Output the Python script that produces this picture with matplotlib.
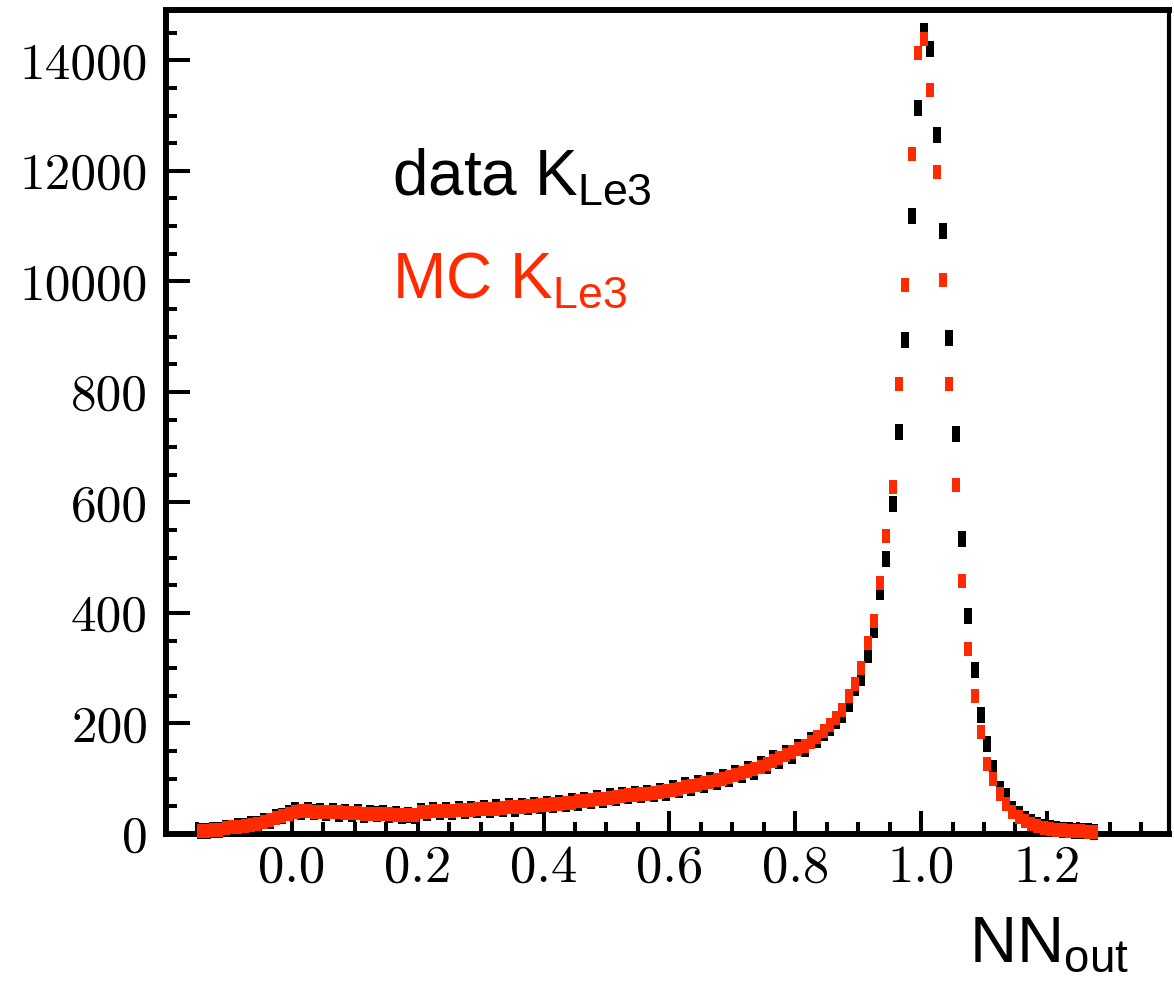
import numpy as np
import matplotlib
matplotlib.use("Agg")
import matplotlib.pyplot as plt
from matplotlib.ticker import MultipleLocator, FixedLocator, FixedFormatter

plt.rcParams["font.family"] = ["Liberation Sans", "DejaVu Sans"]
plt.rcParams["mathtext.fontset"] = "custom"
plt.rcParams["mathtext.rm"] = "Liberation Sans"
plt.rcParams["mathtext.it"] = "Liberation Sans:italic"

# ---------------------------------------------------------------------------
# Histogram data: 143 bins of width 0.01 from -0.15 to 1.28
# ---------------------------------------------------------------------------
bin_lo, bin_hi, bin_w = -0.15, 1.28, 0.01

mc_counts = [
    5, 6, 7, 8, 10, 12, 13, 15, 17, 19,
    22, 25, 29, 33, 37, 40, 41, 41, 40, 40,
    39, 39, 39, 38, 38, 38, 37, 37, 37, 36,
    36, 35, 35, 34, 34, 40, 40, 41, 41, 42,
    42, 43, 43, 44, 45, 45, 46, 46, 47, 48,
    48, 49, 50, 51, 52, 53, 54, 55, 56, 57,
    59, 60, 62, 63, 64, 66, 67, 68, 70, 71,
    72, 73, 75, 76, 78, 80, 82, 85, 87, 89,
    92, 95, 97, 100, 103, 106, 110, 114, 118, 122,
    127, 133, 138, 143, 148, 154, 160, 167, 175, 186,
    198, 210, 224, 250, 272, 300, 346, 385, 454, 539,
    628, 814, 994, 1231, 1413, 1438, 1347, 1198, 1003, 814,
    632, 458, 335, 250, 185, 127, 100, 72, 54, 40,
    30, 23, 18, 14, 11, 9, 8, 7, 6, 5,
    5, 4, 4,
]

data_counts = [
    6, 5, 8, 7, 11, 11, 14, 14, 18, 18,
    23, 24, 30, 32, 38, 43, 40, 43, 39, 42,
    38, 41, 37, 40, 36, 39, 35, 38, 36, 38,
    34, 37, 33, 35, 32, 42, 38, 43, 39, 44,
    40, 45, 41, 46, 43, 47, 44, 48, 45, 50,
    46, 51, 48, 53, 50, 55, 52, 57, 54, 59,
    57, 62, 60, 65, 62, 68, 65, 70, 68, 73,
    70, 75, 73, 78, 75, 83, 80, 88, 84, 92,
    89, 98, 94, 103, 100, 110, 106, 117, 113, 126,
    123, 137, 133, 147, 141, 157, 154, 170, 170, 183,
    192, 205, 216, 235, 264, 282, 324, 369, 438, 498,
    598, 727, 893, 1118, 1314, 1453, 1420, 1265, 1091, 898,
    724, 533, 394, 296, 216, 162, 120, 82, 69, 45,
    36, 28, 21, 17, 13, 11, 9, 8, 7, 6,
    5, 5, 4,
]

y_tick_values = [0, 200, 400, 600, 800, 1000, 1200, 1400]
y_tick_labels = ["0", "200", "400", "600", "800", "10000", "12000", "14000"]
x_tick_values = [0.0, 0.2, 0.4, 0.6, 0.8, 1.0, 1.2]
x_tick_labels = ["0.0", "0.2", "0.4", "0.6", "0.8", "1.0", "1.2"]

RED = "#ff2a00"

edges = np.arange(len(mc_counts) + 1) * bin_w + bin_lo
centers = 0.5 * (edges[:-1] + edges[1:])


def bar_marker(width, height):
    """Rectangular marker, normalised by matplotlib to its height."""
    w, h = width / 2, height / 2
    return [(-w, -h), (w, -h), (w, h), (-w, h), (-w, -h)]


fig = plt.figure(figsize=(11.74, 9.82), dpi=100)
ax = fig.add_axes([0.1414, 0.1507, 0.8543, 0.8391])

# data drawn first, MC on top (as in the original plot)
ax.plot(centers, data_counts, ls="none", marker=bar_marker(9, 17),
        ms=12.2, mfc="black", mec="black", mew=0, zorder=3, clip_on=False)
ax.plot(centers, mc_counts, ls="none", marker=bar_marker(8.5, 13),
        ms=9.4, mfc=RED, mec=RED, mew=0, zorder=4, clip_on=False)

ax.set_xlim(-0.2, 1.394)
ax.set_ylim(0, 1491)

ax.xaxis.set_major_locator(FixedLocator(x_tick_values))
ax.xaxis.set_major_formatter(FixedFormatter(x_tick_labels))
ax.xaxis.set_minor_locator(MultipleLocator(0.05))
ax.yaxis.set_major_locator(FixedLocator(y_tick_values))
ax.yaxis.set_major_formatter(FixedFormatter(y_tick_labels))
ax.yaxis.set_minor_locator(MultipleLocator(50))

ax.tick_params(which="both", direction="in", top=False, right=False,
               width=2.9, color="black")
ax.tick_params(axis="y", which="major", length=17, pad=13)
ax.tick_params(axis="y", which="minor", length=8)
ax.tick_params(axis="x", which="major", length=16.5, pad=8)
ax.tick_params(axis="x", which="minor", length=8.5)

for lbl in ax.get_yticklabels():
    lbl.set_fontfamily("cmr10")
    lbl.set_fontsize(37)
for lbl in ax.get_xticklabels():
    lbl.set_fontfamily("cmr10")
    lbl.set_fontsize(38)

for side in ("left", "bottom", "top"):
    ax.spines[side].set_linewidth(4.3)
ax.spines["right"].set_linewidth(3)

fig.text(0.334, 0.8014, r"data K$_{\mathrm{Le3}}$", fontsize=46,
         color="black", va="baseline", ha="left")
fig.text(0.334, 0.6965, r"MC K$_{\mathrm{Le3}}$", fontsize=46,
         color=RED, va="baseline", ha="left")
fig.text(0.825, 0.021, r"NN$_{\mathrm{out}}$", fontsize=47,
         color="black", va="baseline", ha="left")

fig.savefig("out.png", dpi=100)
